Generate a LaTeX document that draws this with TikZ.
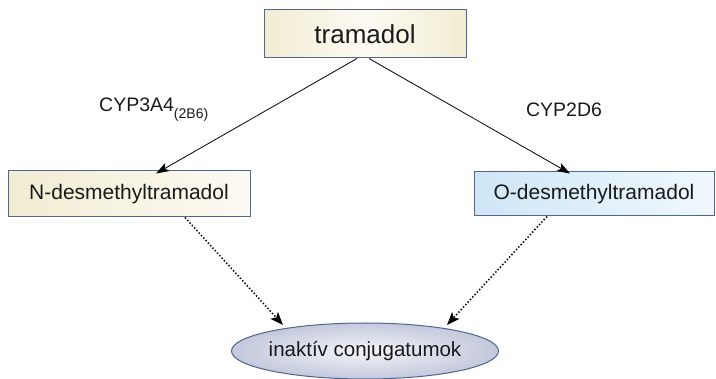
\documentclass[tikz,border=0pt]{standalone}
\usepackage{fontspec}
\setmainfont{Liberation Sans}
\usetikzlibrary{arrows.meta,shapes.geometric}
\definecolor{edgeblue}{HTML}{50658F}
\definecolor{creamdark}{HTML}{F1ECD2}
\definecolor{creamlight}{HTML}{FCFBF3}
\definecolor{skydark}{HTML}{CFE6F7}
\definecolor{skylight}{HTML}{F0F8FE}
\definecolor{ovaldark}{HTML}{C3C8DC}
\definecolor{ovallight}{HTML}{F4F5F9}
\definecolor{inkgray}{HTML}{1A1A1A}
\tikzset{
  box/.style={draw=edgeblue, line width=1pt, rectangle, inner sep=0pt, text=inkgray},
  creambox/.style={box, left color=creamdark, right color=creamlight},
  topbox/.style={box, left color=creamdark, right color=creamdark, middle color=creamlight},
  skybox/.style={box, left color=skydark, right color=skylight},
  oval/.style={draw=edgeblue, line width=1pt, ellipse, inner ysep=0pt, inner xsep=-2pt,
    text=inkgray, inner color=ovallight, outer color=ovaldark},
  arr/.style={draw=black, line width=0.8pt, -{Stealth[length=13pt,width=9pt,inset=3pt]}},
  dotarr/.style={draw=black, line width=1.5pt, dash pattern=on 1.4pt off 2pt,
    -{Stealth[length=13pt,width=10pt,inset=3pt]}},
  enzyme/.style={text=inkgray, inner sep=0pt, font=\fontsize{19.5}{22}\selectfont},
}
\begin{document}
\begin{tikzpicture}[x=1pt,y=-1pt]
  \useasboundingbox (0,0) rectangle (716,379);

  % metabolites
  \node[topbox, minimum width=202pt, minimum height=48pt,
        font=\fontsize{26}{30}\selectfont] (tram) at (365,34) {tramadol};
  \node[creambox, minimum width=242pt, minimum height=46pt,
        font=\fontsize{21}{24}\selectfont] (nd) at (129,194) {N-desmethyltramadol};
  \node[skybox, minimum width=240pt, minimum height=44pt,
        font=\fontsize{21}{24}\selectfont] (od) at (594,194) {O-desmethyltramadol};
  \node[oval, minimum width=267pt, minimum height=56pt,
        font=\fontsize{20.5}{24}\selectfont] (conj) at (365,351) {inaktív conjugatumok};

  % enzymes
  \node[enzyme, anchor=west] (cyp3) at (99,110)
    {CYP3A4\raisebox{-0.35em}{\fontsize{14}{16}\selectfont(2B6)}};
  \node[enzyme] (cyp2) at (564,110) {CYP2D6};

  % tips of the dotted arrows, on the rim of the oval
  \coordinate (conjL) at (283,325);
  \coordinate (conjR) at (447,325);

  % phase I
  \draw[arr] ([xshift=-8pt]tram.south) -- ([xshift=27pt,yshift=-3pt]nd.north);
  \draw[arr] ([xshift=4pt]tram.south) -- ([xshift=-24pt,yshift=-2pt]od.north);

  % conjugation
  \draw[dotarr] ([xshift=56pt]nd.south) -- (conjL);
  \draw[dotarr] ([xshift=-47pt]od.south) -- (conjR);
\end{tikzpicture}
\end{document}
